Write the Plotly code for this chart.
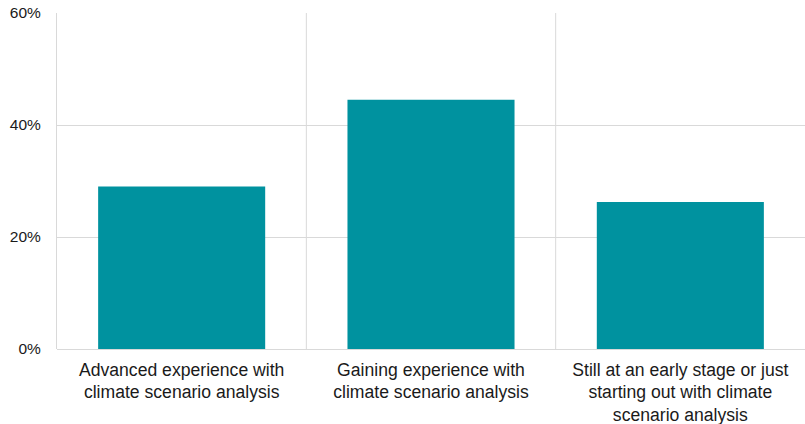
import plotly.graph_objects as go

categories = [
    "Advanced experience with<br>climate scenario analysis",
    "Gaining experience with<br>climate scenario analysis",
    "Still at an early stage or just<br>starting out with climate<br>scenario analysis",
]
values = [0.29, 0.445, 0.2625]
y_ticks = [0, 0.2, 0.4, 0.6]
y_ticklabels = ["0%", "20%", "40%", "60%"]

x_pos = list(range(len(categories)))
grid_col = "#d9d9d9"

fig = go.Figure(go.Bar(
    x=x_pos, y=values, marker=dict(color="#00929F", line=dict(width=0)),
    width=0.67, hoverinfo="skip",
))

shapes = []
for b in [i + 0.5 for i in x_pos[:-1]]:
    shapes.append(dict(type="line", xref="x", yref="y", x0=b, x1=b, y0=0, y1=0.6,
                       line=dict(color=grid_col, width=1), layer="below"))

fig.update_layout(
    width=805, height=424,
    margin=dict(l=57, r=0, t=13, b=75),
    paper_bgcolor="white", plot_bgcolor="white",
    showlegend=False,
    font=dict(family="Liberation Sans, Arial, sans-serif", size=15, color="#1a1a1a"),
    shapes=shapes,
    xaxis=dict(
        range=[-0.5, 2.5], tickvals=x_pos, ticktext=categories,
        showgrid=False, zeroline=False, showline=False, ticks="",
        tickfont=dict(size=17.6, color="#1a1a1a"),
        ticklabelstandoff=8,
    ),
    yaxis=dict(
        range=[0, 0.6], tickvals=y_ticks, ticktext=y_ticklabels,
        showgrid=True, gridcolor=grid_col, gridwidth=1,
        zeroline=True, zerolinecolor=grid_col, zerolinewidth=1,
        showline=True, linecolor=grid_col, linewidth=1,
        ticks="", ticklen=0, tickfont=dict(size=15.5, color="#1a1a1a"),
        ticklabelstandoff=12,
    ),
    bargap=0.33,
)

fig.write_html("out.html")
